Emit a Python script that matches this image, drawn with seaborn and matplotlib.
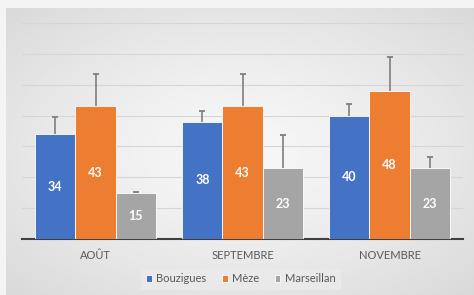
import numpy as np
import pandas as pd
import matplotlib
matplotlib.use("Agg")
import matplotlib.pyplot as plt
import seaborn as sns

# data
months = ["AOÛT", "SEPTEMBRE", "NOVEMBRE"]
sites = ["Bouzigues", "Mèze", "Marseillan"]
bouzigues = [34, 38, 40]
meze = [43, 43, 48]
marseillan = [15, 23, 23]
bouzigues_err = [5.5, 3.5, 3.8]
meze_err = [10.6, 10.6, 11.0]
marseillan_err = [0.3, 10.7, 3.5]

colors = ["#4472C4", "#ED7D31", "#A5A5A5"]

df = pd.DataFrame({
    "Mois": months * 3,
    "Site": [s for s in sites for _ in months],
    "Valeur": bouzigues + meze + marseillan,
})
errs = [bouzigues_err, meze_err, marseillan_err]

sns.set_style("white")
plt.rcParams["font.family"] = ["Lato", "DejaVu Sans"]

fig = plt.figure(figsize=(4.74, 2.95), dpi=100)
fig.patch.set_facecolor("#f4f4f4")

# soft radial gradient background of the chart box
bg = fig.add_axes([6 / 474, 0, 468 / 474, 287 / 295])
yy, xx = np.mgrid[-1:1:200j, -1:1:300j]
r = np.sqrt(xx ** 2 + yy ** 2) / np.sqrt(2)
bg.imshow(0.97 - 0.12 * r ** 1.3, cmap="gray", vmin=0, vmax=1, aspect="auto")
bg.axis("off")

ax = fig.add_axes([22 / 474, (295 - 239) / 295, 441 / 474, (239 - 23) / 295])
ax.set_facecolor("none")
sns.barplot(data=df, x="Mois", y="Valeur", hue="Site", palette=colors,
            saturation=1, width=0.82, edgecolor="white", linewidth=0.6,
            errorbar=None, ax=ax, zorder=3)
ax.set_xlim(-0.5, 2.5)

# plus-only error bars: vertical stem + cap at the top
for cont, e in zip(ax.containers, errs):
    xs = np.array([p.get_x() + p.get_width() / 2 for p in cont])
    hs = np.array([p.get_height() for p in cont])
    tops = hs + np.array(e)
    ax.vlines(xs, hs, tops, color="#7f7f7f", linewidth=1.2, zorder=4)
    ax.plot(xs, tops, linestyle="none", marker="_", markersize=5,
            markeredgewidth=1.3, color="#7f7f7f", zorder=4)
    ax.bar_label(cont, label_type="center", color="white", fontweight="bold",
                 fontsize=9)

ax.set_ylim(0, 70)
ax.set_yticks(range(0, 71, 10))
ax.yaxis.grid(True, color="#d6d6d6", linewidth=0.8, zorder=0)
ax.set_axisbelow(True)
ax.tick_params(axis="y", left=False, labelleft=False)
ax.tick_params(axis="x", length=0, pad=8, labelsize=8, labelcolor="#595959")
ax.set_xlabel("")
ax.set_ylabel("")
for s in ["top", "right", "left"]:
    ax.spines[s].set_visible(False)
ax.spines["bottom"].set_color("#404040")
ax.spines["bottom"].set_linewidth(1.5)

handles, labels = ax.get_legend_handles_labels()
leg = ax.legend(handles, labels, loc="center", ncol=3,
                bbox_to_anchor=(241 / 474, 16 / 295),
                bbox_transform=fig.transFigure, frameon=True, fontsize=8,
                handlelength=0.5, handleheight=0.5, handletextpad=0.4,
                columnspacing=1.4, borderpad=0.45)
leg.get_frame().set_facecolor("#ebebeb")
leg.get_frame().set_edgecolor("none")
leg.get_frame().set_boxstyle("square", pad=0)
for t in leg.get_texts():
    t.set_color("#595959")

fig.savefig("out.png", dpi=100, facecolor=fig.get_facecolor())
